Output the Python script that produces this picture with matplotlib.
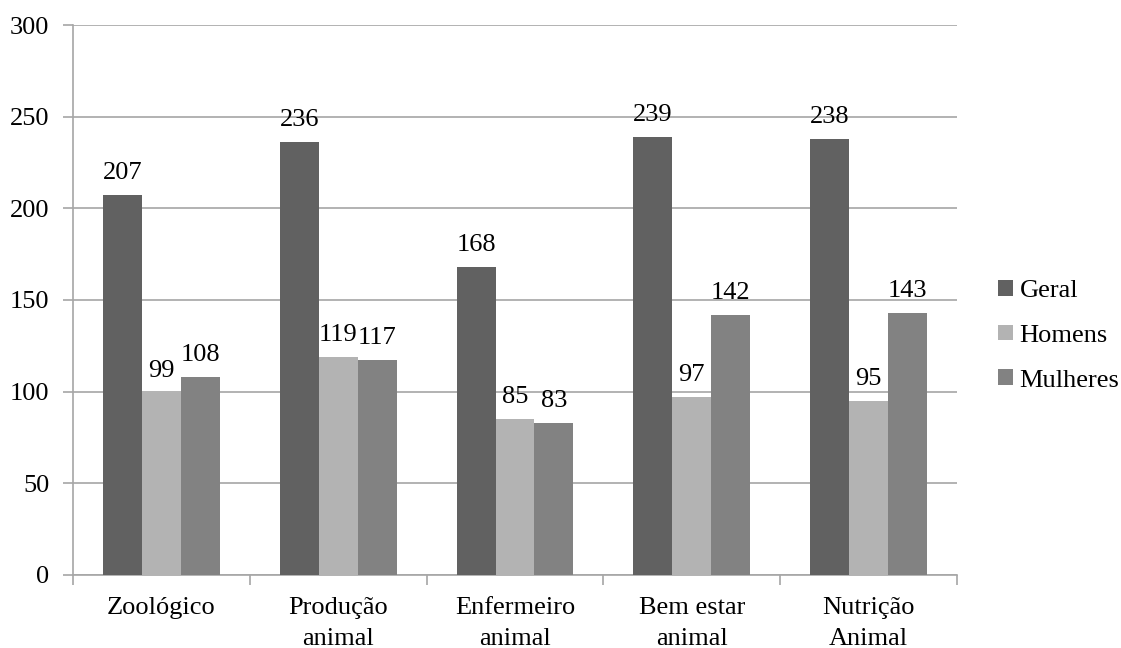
import matplotlib.pyplot as plt
import numpy as np
from matplotlib import font_manager as fm

# Times-like face for every text on the chart
caminho = fm.findfont(fm.FontProperties(family='Liberation Serif'))
FONTE = fm.FontProperties(fname=caminho, size=19)

categorias = ['Zoológico', 'Produção\nanimal', 'Enfermeiro\nanimal', 'Bem estar\nanimal', 'Nutrição\nAnimal']
geral = [207, 236, 168, 239, 238]
homens = [99, 119, 85, 97, 95]
mulheres = [108, 117, 83, 142, 143]
series = ['Geral', 'Homens', 'Mulheres']
cores = ['#616161', '#b3b3b3', '#828282']

fig = plt.figure(figsize=(11.21, 6.48), dpi=100)
ax = fig.add_axes([0.0651, 0.1127, 0.7886, 0.8487])

x = np.arange(len(categorias))
w = 0.22
for i, (vals, nome, cor) in enumerate(zip([geral, homens, mulheres], series, cores)):
    pos = x + (i - 1) * w
    bars = ax.bar(pos, vals, w, color=cor, label=nome, zorder=3)
    for b, v in zip(bars, vals):
        ax.annotate(str(v), (b.get_x() + b.get_width() / 2, v), xytext=(0, 8),
                    textcoords='offset points', ha='center', va='bottom',
                    fontproperties=FONTE)

ax.set_xlim(-0.5, len(categorias) - 0.5)
ax.set_ylim(0, 300)
yt = list(range(0, 301, 50))
ax.set_yticks(yt)
ax.set_yticklabels([str(v) for v in yt], fontproperties=FONTE)
ax.yaxis.grid(True, color='#a6a6a6', linewidth=1.2, zorder=0)
ax.set_xticks(x)
ax.set_xticklabels(categorias, fontproperties=FONTE, linespacing=1.5)
ax.set_xticks(np.arange(-0.5, len(categorias)), minor=True)
ax.tick_params(axis='x', which='major', length=0, pad=16)
ax.tick_params(axis='x', which='minor', length=7, color='#a6a6a6', width=1.2)
ax.tick_params(axis='y', length=7, color='#a6a6a6', width=1.2, pad=10)
for s in ['top', 'right']:
    ax.spines[s].set_visible(False)
for s in ['left', 'bottom']:
    ax.spines[s].set_color('#a6a6a6')
    ax.spines[s].set_linewidth(1.2)

ax.legend(loc='center left', bbox_to_anchor=(1.02, 0.435), frameon=False, prop=FONTE,
          handlelength=0.55, handleheight=0.55, handletextpad=0.25, labelspacing=0.85)

fig.savefig('out.png', dpi=100)
